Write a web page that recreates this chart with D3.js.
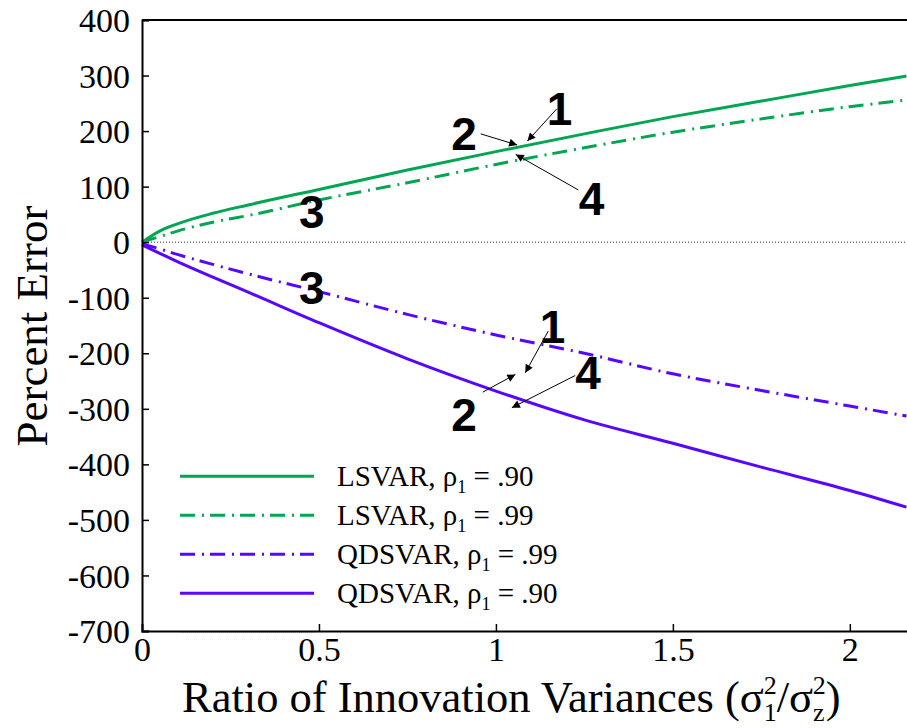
<!DOCTYPE html>
<html>
<head>
<meta charset="utf-8">
<script src="https://cdn.jsdelivr.net/npm/d3@7"></script>
<style>
  body { margin: 0; background: #fff; }
  text { font-family: "Liberation Serif", "Times New Roman", serif; }
</style>
</head>
<body>
<div id="chart"></div>
<script>
// ratio of innovation variances
var ratios = [0, 0.05, 0.1, 0.2, 0.3, 0.5, 0.75, 1, 1.25, 1.5, 1.75, 2, 2.16];

// percent error per series
var lsvar90  = [0, 20, 33, 52, 67, 95, 130, 163, 195, 226, 254, 282, 299];
var lsvar99  = [0, 10, 20, 36, 48, 76, 107, 140, 170, 198, 222, 244, 256];
var qdsvar99 = [-3, -12, -22, -40, -57, -89, -130, -167, -200, -237, -267, -295, -313];
var qdsvar90 = [-5, -20, -35, -63, -90, -145, -210, -268, -320, -362, -405, -447, -477];

var seriesNames = ["LSVAR", "LSVAR", "QDSVAR", "QDSVAR"];
var seriesRho = [".90", ".99", ".99", ".90"];

var xTicks = [0, 0.5, 1, 1.5, 2];
var yTicks = [400, 300, 200, 100, 0, -100, -200, -300, -400, -500, -600, -700];

// numbered annotations: label position and arrow [from, to] in data units
var labels = [
  {t: "1", x: 1.18, y: 240}, {t: "2", x: 0.91, y: 196}, {t: "3", x: 0.48, y: 56}, {t: "4", x: 1.27, y: 78},
  {t: "1", x: 1.16, y: -152}, {t: "2", x: 0.91, y: -310}, {t: "3", x: 0.48, y: -82}, {t: "4", x: 1.26, y: -234}
];
var arrows = [
  [[0.957, 195], [1.06, 175]],
  [[1.172, 240], [1.089, 182]],
  [[1.233, 94], [1.056, 158]],
  [[1.148, -160], [1.083, -235]],
  [[0.963, -270], [1.055, -238]],
  [[1.224, -240], [1.045, -298]]
];

var W = 907, H = 728;
var margin = {left: 142, top: 20, right: -3, bottom: 97};
var serif = "'Liberation Serif', 'Times New Roman', serif";

var svg = d3.select("#chart").append("svg")
    .attr("width", W)
    .attr("height", H)
    .style("font-family", serif);

var x = d3.scaleLinear().domain([0, 2.17]).range([margin.left, W - margin.right]);
var y = d3.scaleLinear().domain([-700, 400]).range([H - margin.bottom, margin.top]);

var green = "#00a651", purple = "#5708fc";

// zero line
svg.append("line")
    .attr("x1", x(0)).attr("x2", W)
    .attr("y1", y(0)).attr("y2", y(0))
    .attr("stroke", "#333").attr("stroke-width", 1)
    .attr("stroke-dasharray", "1,2");

// little dotted trace along the bottom axis
svg.append("line")
    .attr("x1", x(0.11)).attr("x2", x(0.49))
    .attr("y1", y(-700) + 1).attr("y2", y(-700) + 1)
    .attr("stroke", "#888").attr("stroke-width", 1)
    .attr("stroke-dasharray", "1,1");

var series = [
  {vals: lsvar90, color: green, dash: null},
  {vals: lsvar99, color: green, dash: "15,7,2,6"},
  {vals: qdsvar99, color: purple, dash: "15,7,2,6"},
  {vals: qdsvar90, color: purple, dash: null}
];

var line = d3.line()
    .x(function(d, i){ return x(ratios[i]); })
    .y(function(d){ return y(d); })
    .curve(d3.curveMonotoneX);

svg.selectAll("path.series")
    .data(series)
    .enter()
    .append("path")
    .attr("class", "series")
    .attr("d", function(d){ return line(d.vals); })
    .attr("fill", "none")
    .attr("stroke", function(d){ return d.color; })
    .attr("stroke-width", 3)
    .attr("stroke-dasharray", function(d){ return d.dash; });

// axes
var yAxis = d3.axisLeft(y).tickValues(yTicks).tickSize(-7).tickPadding(12).tickFormat(function(d){ return String(d); });
var xAxis = d3.axisBottom(x).tickValues(xTicks).tickSize(-7).tickPadding(6).tickFormat(function(d){ return String(d); });

var gy = svg.append("g").attr("transform", "translate(" + margin.left + ",0)").call(yAxis);
var gx = svg.append("g").attr("transform", "translate(0," + (H - margin.bottom) + ")").call(xAxis);

[gx, gy].forEach(function(g){
  g.attr("font-family", serif).attr("font-size", null);
  g.select(".domain").attr("stroke", "#000").attr("stroke-width", 2);
  g.selectAll(".tick line").attr("stroke", "#000").attr("stroke-width", 1.5);
  g.selectAll(".tick text")
    .style("font-family", serif)
    .style("font-size", "34px").attr("fill", "#000");
});
gy.selectAll(".tick text").attr("dy", "0.34em");
gx.selectAll(".tick text").attr("dy", "0.72em");
gx.selectAll(".tick").filter(function(d){ return d === 0; }).select("line").remove();

// top border
svg.append("line")
    .attr("x1", margin.left).attr("x2", W)
    .attr("y1", y(400)).attr("y2", y(400))
    .attr("stroke", "#000").attr("stroke-width", 2);

// arrows
svg.append("defs").append("marker")
    .attr("id", "head")
    .attr("viewBox", "0 0 10 10")
    .attr("refX", 10).attr("refY", 5)
    .attr("markerWidth", 14).attr("markerHeight", 8)
    .attr("markerUnits", "userSpaceOnUse")
    .attr("orient", "auto")
    .append("path").attr("d", "M0,0 L10,5 L0,10 z").attr("fill", "#000");

svg.selectAll("line.arrow")
    .data(arrows)
    .enter()
    .append("line")
    .attr("class", "arrow")
    .attr("x1", function(d){ return x(d[0][0]); })
    .attr("y1", function(d){ return y(d[0][1]); })
    .attr("x2", function(d){ return x(d[1][0]); })
    .attr("y2", function(d){ return y(d[1][1]); })
    .attr("stroke", "#000").attr("stroke-width", 1)
    .attr("marker-end", "url(#head)");

svg.selectAll("text.num")
    .data(labels)
    .enter()
    .append("text")
    .attr("class", "num")
    .attr("x", function(d){ return x(d.x); })
    .attr("y", function(d){ return y(d.y); })
    .attr("text-anchor", "middle")
    .attr("dy", "0.36em")
    .style("font-family", "'Liberation Sans', Arial, sans-serif")
    .style("font-weight", "bold")
    .style("font-size", "46px")
    .text(function(d){ return d.t; });

// legend
var leg = svg.selectAll("g.leg")
    .data(series)
    .enter()
    .append("g")
    .attr("class", "leg")
    .attr("transform", function(d, i){ return "translate(0," + (y(0) + (i * 39) + 234) + ")"; });

leg.append("line")
    .attr("x1", 180).attr("x2", 314)
    .attr("stroke", function(d){ return d.color; })
    .attr("stroke-width", 3)
    .attr("stroke-dasharray", function(d){ return d.dash; });

var lt = leg.append("text")
    .attr("x", 337).attr("dy", "0.34em")
    .style("font-size", "29px");
lt.append("tspan").text(function(d, i){ return seriesNames[i] + ", ρ"; });
lt.append("tspan").attr("dy", 7).style("font-size", "18px").text("1");
lt.append("tspan").attr("dy", -7).text(function(d, i){ return " = " + seriesRho[i]; });

// axis titles
svg.append("text")
    .attr("transform", "translate(47,326) rotate(-90)")
    .attr("text-anchor", "middle")
    .style("font-size", "45px")
    .text("Percent Error");

var xt = svg.append("text")
    .attr("x", 182).attr("y", 712)
    .style("font-size", "44.5px");
xt.append("tspan").text("Ratio of Innovation Variances (σ");
xt.append("tspan").attr("dy", 9).style("font-size", "26px").text("1");
xt.append("tspan").attr("dx", -13).attr("dy", -27).style("font-size", "26px").text("2");
xt.append("tspan").attr("dy", 18).text("/σ");
xt.append("tspan").attr("dy", 9).style("font-size", "26px").text("z");
xt.append("tspan").attr("dx", -12).attr("dy", -27).style("font-size", "26px").text("2");
xt.append("tspan").attr("dy", 18).text(")");
</script>
</body>
</html>
